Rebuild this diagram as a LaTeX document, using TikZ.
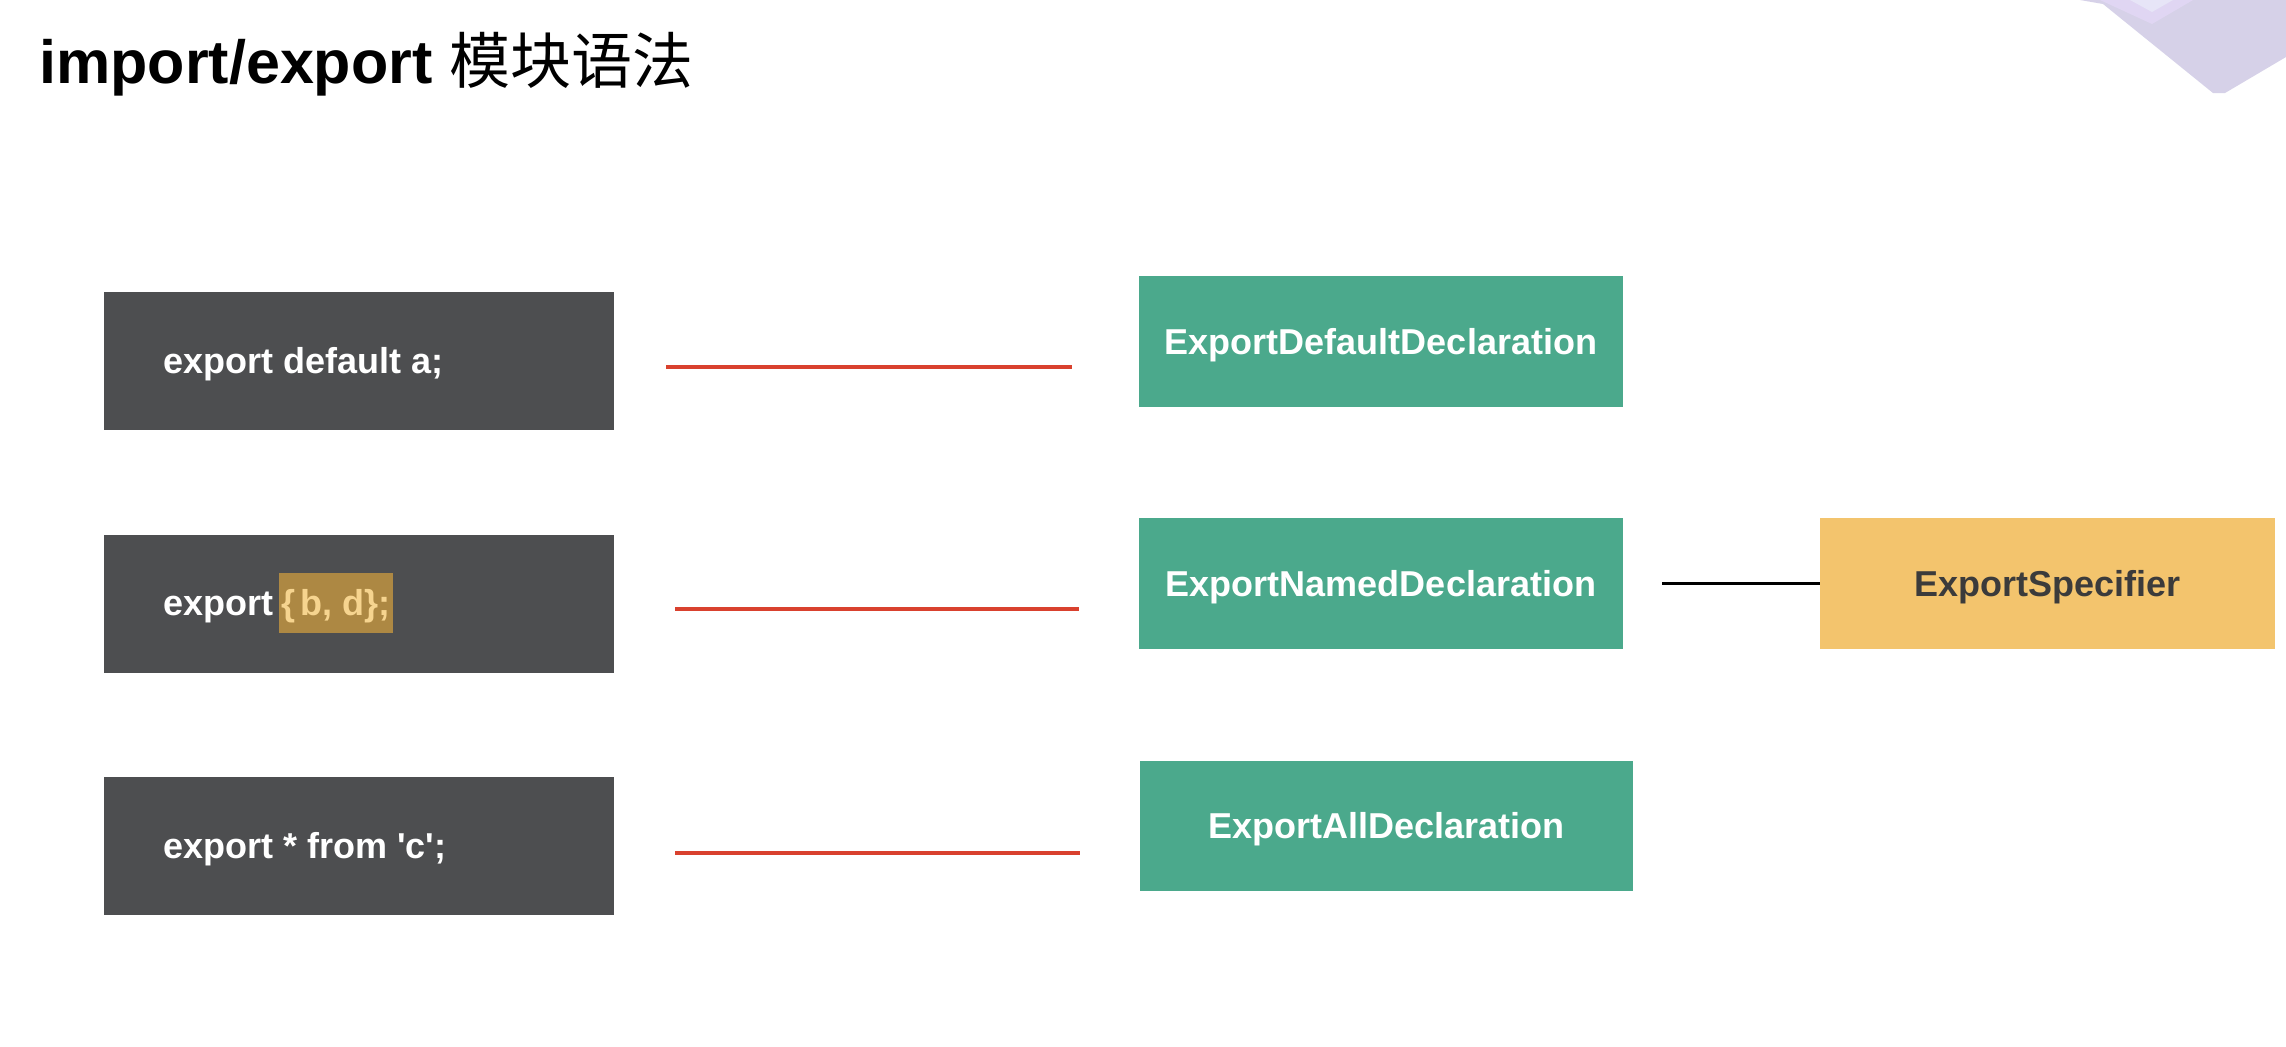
\documentclass[tikz,border=0pt]{standalone}
\usepackage{fontspec}
\setmainfont{Liberation Sans}[Ligatures=TeXOff]
\newfontfamily\cjk{Noto Sans CJK SC}
\usetikzlibrary{calc}
\definecolor{darkbox}{HTML}{4D4E50}
\definecolor{greenbox}{HTML}{4BA98C}
\definecolor{yellowbox}{HTML}{F3C46D}
\definecolor{hlfill}{HTML}{AD8843}
\definecolor{hltext}{HTML}{F6D48F}
\definecolor{redline}{HTML}{D9412E}
\definecolor{spectext}{HTML}{3B3B3B}
\definecolor{purpleA}{HTML}{D6D1E8}
\definecolor{purpleB}{HTML}{E0D6F3}
\definecolor{purpleC}{HTML}{E7E5F7}
\tikzset{
  codebox/.style={fill=darkbox, draw=none, minimum width=255pt, minimum height=69pt, inner sep=0pt},
  codetext/.style={anchor=base west, inner sep=0pt, text=white, font=\fontsize{18pt}{21pt}\selectfont\bfseries},
  astbox/.style={fill=greenbox, draw=none, inner sep=0pt, text=white, text height=12.9pt, text depth=0pt,
    font=\fontsize{18pt}{21pt}\selectfont\bfseries},
  specbox/.style={fill=yellowbox, draw=none, inner sep=0pt, text=spectext, text height=12.9pt, text depth=0pt,
    font=\fontsize{18pt}{21pt}\selectfont\bfseries},
  redstroke/.style={draw=redline, line width=2.4pt},
  link/.style={draw=black, line width=1.2pt}
}
\begin{document}
\begin{tikzpicture}[x=0.5pt,y=-0.5pt]
\useasboundingbox (0,0) rectangle (2286,1046);
\fill[white] (0,0) rectangle (2286,1046);
% decoration top right
\fill[purpleA] (2080,0) -- (2103,4) -- (2213,93) -- (2225,93) -- (2286,57) -- (2286,0) -- cycle;
\fill[purpleB] (2100,0) -- (2152,24) -- (2193,0) -- cycle;
\fill[purpleC] (2130,0) -- (2152,12) -- (2173,0) -- cycle;
% title
\node[anchor=base west, inner sep=0pt, font=\fontsize{30.5pt}{36pt}\selectfont] (title) at (39,83)
  {\bfseries import/export \cjk\mdseries 模块语法};
% code boxes
\node[codebox] (d1) at (358.6,360.9) {};
\node[codebox] (d2) at (358.6,603.5) {};
\node[codebox] (d3) at (358.6,845.5) {};
\node[codetext] (t1) at (163,373) {export default a;};
\node[codetext] (t2) at (163,615) {export};
\node[codetext, fill=hlfill, text=hltext, inner xsep=1.2pt, text height=21pt, text depth=9pt]
  (t2b) at ([xshift=2.5pt]t2.base east) {\{\hspace{2.5pt}b, d\};};
\node[codetext] (t3) at (163,858) {export * from 'c';};
% AST boxes
\node[astbox, minimum width=242pt, minimum height=65.5pt] (A) at (1381,341.5) {ExportDefaultDeclaration};
\node[astbox, minimum width=242pt, minimum height=65.5pt] (B) at (1381,583.5) {ExportNamedDeclaration};
\node[astbox, minimum width=246.5pt, minimum height=65pt] (C) at (1386.5,826) {ExportAllDeclaration};
\node[specbox, minimum width=227.5pt, minimum height=65.5pt] (S) at (2047.5,583.5) {ExportSpecifier};
% red strokes
\coordinate (r1a) at (666,367);  \coordinate (r1b) at (1072,367);
\coordinate (r2a) at (675,609);  \coordinate (r2b) at (1079,609);
\coordinate (r3a) at (675,853);  \coordinate (r3b) at (1080,853);
\draw[redstroke] (r1a) -- (r1b);
\draw[redstroke] (r2a) -- (r2b);
\draw[redstroke] (r3a) -- (r3b);
% link
\draw[link] ([xshift=19.5pt]B.east) -- (S.west);
\end{tikzpicture}
\end{document}
